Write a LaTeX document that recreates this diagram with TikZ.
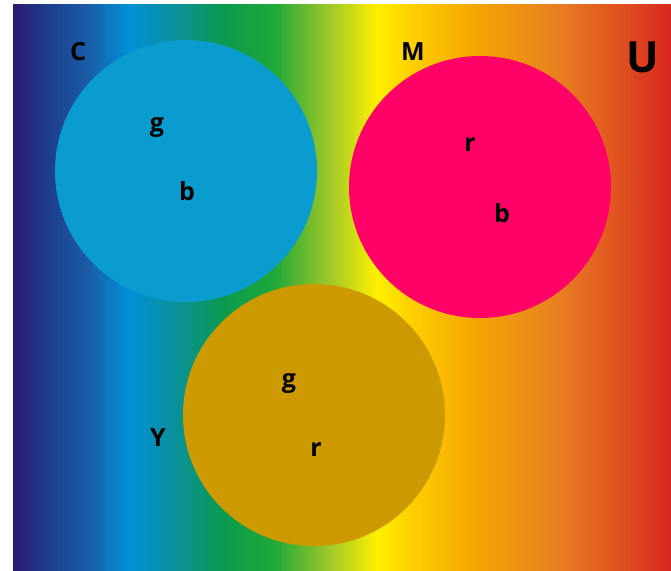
\documentclass[tikz,border=0pt]{standalone}
\usepackage{fontspec}
\setmainfont{Open Sans}
\definecolor{s1}{HTML}{2E1A6E}
\definecolor{s2}{HTML}{1E3A8A}
\definecolor{s3}{HTML}{1B5AA5}
\definecolor{s4}{HTML}{0090D8}
\definecolor{s5}{HTML}{0A90A0}
\definecolor{s6}{HTML}{0A9A50}
\definecolor{s7}{HTML}{20A838}
\definecolor{s8}{HTML}{A0C828}
\definecolor{s9}{HTML}{FFF000}
\definecolor{s10}{HTML}{FFD000}
\definecolor{s11}{HTML}{F5A800}
\definecolor{s12}{HTML}{E88020}
\definecolor{s13}{HTML}{E05020}
\definecolor{s14}{HTML}{D82820}
\definecolor{cyanc}{HTML}{0A9CCF}
\definecolor{magc}{HTML}{FF0066}
\definecolor{yelc}{HTML}{CC9900}
\pgfdeclarehorizontalshading{rainbow}{100bp}{color(0bp)=(s1); color(25bp)=(s1); color(27.28bp)=(s2); color(30.55bp)=(s3); color(33.74bp)=(s4); color(37bp)=(s5); color(40.88bp)=(s6); color(44.83bp)=(s7); color(49.09bp)=(s8); color(52.66bp)=(s9); color(55.17bp)=(s10); color(59.73bp)=(s11); color(66.26bp)=(s12); color(71.12bp)=(s13); color(75bp)=(s14); color(100bp)=(s14)}
\tikzset{
  disc/.style={circle, minimum size=262pt, inner sep=0pt},
  lbl/.style={font=\bfseries\fontsize{25}{27}\selectfont, text=black, inner sep=0pt},
}
\begin{document}
\begin{tikzpicture}[x=1pt,y=-1pt]
\useasboundingbox (0,0) rectangle (671,570);
\fill[white] (0,0) rectangle (671,570);
\shade[shading=rainbow] (13,4) rectangle (671,570);
\node[disc, fill=cyanc] (cy) at (186,171) {};
\node[disc, fill=magc] (mg) at (480,187) {};
\node[disc, fill=yelc] (ye) at (314,415) {};
\node[lbl] (lC) at (78,52) {C};
\node[lbl] (lM) at (413,52) {M};
\node[lbl, font=\bfseries\fontsize{43}{45}\selectfont] (lU) at (643,57) {U};
\node[lbl] (lY) at (158,438) {Y};
\node[lbl] (cg) at (157,128) {g};
\node[lbl] (cb) at (187,191) {b};
\node[lbl] (mr) at (470,145) {r};
\node[lbl] (mb) at (502,213) {b};
\node[lbl] (yg) at (289,384) {g};
\node[lbl] (yr) at (316,450) {r};
\end{tikzpicture}
\end{document}
